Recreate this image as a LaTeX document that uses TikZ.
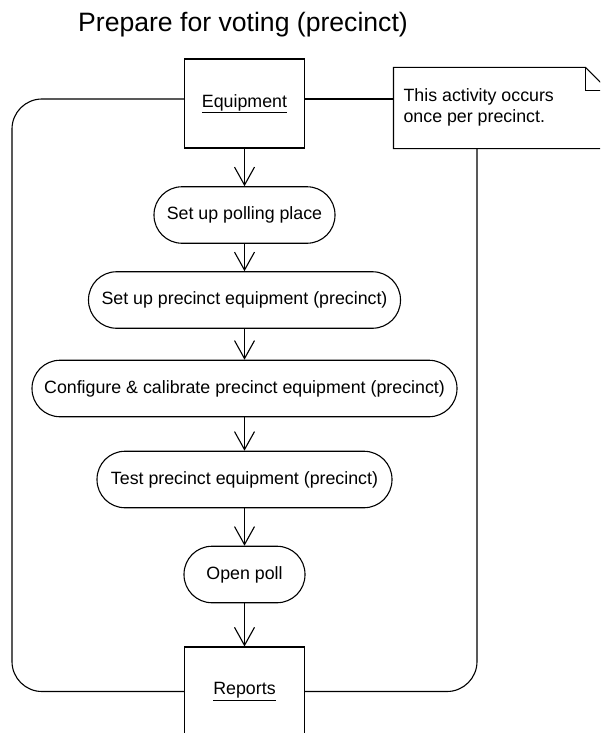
\documentclass[tikz,border=0pt]{standalone}
\usepackage{fontspec}
\setmainfont{Liberation Sans}
\usetikzlibrary{arrows.meta}
\begin{document}
\begin{tikzpicture}[x=1pt,y=-1pt,
  line width=1.1pt,
  txt/.style={font=\fontsize{17.8}{21}\selectfont},
  objbox/.style={draw, rectangle, minimum width=120pt, minimum height=89pt, inner sep=0pt, txt},
  actbox/.style={draw, rectangle, rounded corners=28pt, minimum height=56.5pt, inner sep=0pt, txt},
  flow/.style={-{Straight Barb[length=18pt,width=20pt]}},
  framepath/.style={rounded corners=30pt},
  ]
\useasboundingbox (0,0) rectangle (600,733);
\clip (0,0) rectangle (600,733);

\node[anchor=base, font=\fontsize{26.6}{30}\selectfont] (title) at (243,32) {Prepare for voting (precinct)};

\node[objbox] (equip) at (244.5,103.5) {\underline{Equipment}};
\node[actbox, minimum width=181pt] (poll) at (244.5,215) {Set up polling place};
\node[actbox, minimum width=312pt] (prec) at (244.5,300) {Set up precinct equipment (precinct)};
\node[actbox, minimum width=425pt] (conf) at (244.5,388.5) {Configure \& calibrate precinct equipment (precinct)};
\node[actbox, minimum width=295pt] (test) at (244.5,479.5) {Test precinct equipment (precinct)};
\node[actbox, minimum width=121pt] (open) at (244.5,574.5) {Open poll};
\node[objbox] (reports) at (244.5,691.5) {\underline{Reports}};

\draw[flow] (equip) -- (poll);
\draw[flow] (poll) -- (prec);
\draw[flow] (prec) -- (conf);
\draw[flow] (conf) -- (test);
\draw[flow] (test) -- (open);
\draw[flow] (open) -- (reports);

% note
\node[rectangle, minimum width=214pt, minimum height=80pt, inner sep=0pt] (note) at (501,108) {};
\draw (note.south west) -- (note.north west) -- ([xshift=-23pt]note.north east)
  -- ([yshift=-23pt]note.north east) -- (note.south east) -- cycle;
\draw ([xshift=-23pt]note.north east) -- ([xshift=-23pt,yshift=-23pt]note.north east)
  -- ([yshift=-23pt]note.north east);
\node[anchor=base west, align=left, inner sep=0pt, txt] (notetext) at (403,123) {This activity occurs\\once per precinct.};

% frame
\coordinate (ftl) at (12,99);
\coordinate (fbl) at (12,691.5);
\coordinate (fbr) at (477,691.5);
\draw[framepath] (equip.west |- ftl) -- (ftl) -- (fbl) -- (reports.west);
\draw[framepath] (reports.east) -- (fbr) -- (fbr |- note.south);
\draw (equip.east |- ftl) -- (note.west |- ftl);
\end{tikzpicture}
\end{document}
